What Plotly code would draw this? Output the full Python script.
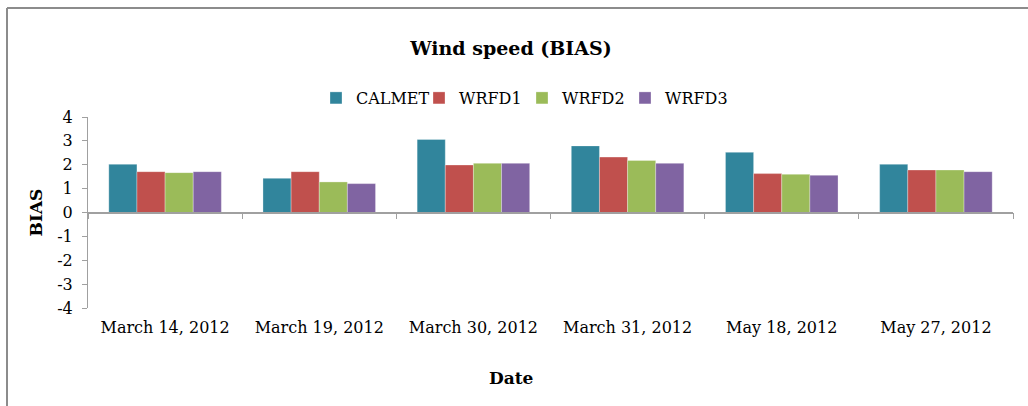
import plotly.graph_objects as go

dates = ["March 14, 2012", "March 19, 2012", "March 30, 2012",
         "March 31, 2012", "May 18, 2012", "May 27, 2012"]
calmet = [2.02, 1.43, 3.06, 2.79, 2.52, 2.02]
wrfd1 = [1.71, 1.71, 1.99, 2.32, 1.63, 1.78]
wrfd2 = [1.67, 1.28, 2.06, 2.18, 1.60, 1.78]
wrfd3 = [1.71, 1.21, 2.06, 2.06, 1.56, 1.71]
series_names = ["CALMET", "WRFD1", "WRFD2", "WRFD3"]
colors = ["#31859C", "#C0504D", "#9BBB59", "#8064A2"]
y_ticks = [-4, -3, -2, -1, 0, 1, 2, 3, 4]
y_ticktext = ["-4", "-3", "-2", "-1", "0", "1", "2", "3", "4"]

FONT = "DejaVu Serif"
W, H = 1028, 406
L, R, T, B = 88, 15, 117, 98
pw, ph = W - L - R, H - T - B

fig = go.Figure()
for name, vals, col in zip(series_names, [calmet, wrfd1, wrfd2, wrfd3], colors):
    fig.add_trace(go.Bar(x=dates, y=vals, name=name,
                         marker=dict(color=col, line=dict(color="rgba(255,255,255,0.6)", width=0.5))))

# invisible helper trace for the zero-positioned category axis
fig.add_trace(go.Scatter(x=dates, y=[0] * len(dates), xaxis="x2", mode="none",
                         showlegend=False, hoverinfo="skip"))

gray = "#A0A0A0"
fig.update_layout(
    width=W, height=H,
    margin=dict(l=L, r=R, t=T, b=B),
    paper_bgcolor="white", plot_bgcolor="white",
    font=dict(family=FONT, color="#000000", size=15),
    title=dict(text="<b>Wind speed (BIAS)</b>", x=(511 - L) / pw, xref="paper", xanchor="center",
               y=1 - 48 / H, yanchor="middle", font=dict(family=FONT, size=19)),
    barmode="group", bargap=0.27, bargroupgap=0,
    legend=dict(orientation="h", x=(522 - L) / pw, xanchor="center", xref="paper",
                y=1 + (117 - 98) / ph, yanchor="middle",
                font=dict(family=FONT, size=16), entrywidth=58, entrywidthmode="pixels",
                itemwidth=30, traceorder="normal", bgcolor="rgba(0,0,0,0)"),
    xaxis=dict(type="category", showline=False, ticks="", showgrid=False, zeroline=False,
               tickfont=dict(family=FONT, size=16), ticklabelstandoff=8),
    xaxis2=dict(type="category", overlaying="x", matches="x", anchor="free", position=0.5,
                showline=True, linecolor=gray, linewidth=1.5, ticks="outside", tickson="boundaries",
                ticklen=6, tickcolor=gray, showticklabels=False, showgrid=False, zeroline=False),
    yaxis=dict(range=[-4, 4], tickvals=y_ticks, ticktext=y_ticktext, showline=True,
               linecolor=gray, linewidth=1, ticks="outside", ticklen=5, tickcolor=gray,
               showgrid=False, zeroline=False, ticklabelstandoff=6,
               tickfont=dict(family=FONT, size=16),
               title=dict(text="<b>BIAS</b>", font=dict(family=FONT, size=17), standoff=10)),
)

fig.add_annotation(text="<b>Date</b>", xref="paper", yref="paper",
                   x=(511 - L) / pw, y=-(378 - T - ph) / ph,
                   showarrow=False, font=dict(family=FONT, size=17),
                   xanchor="center", yanchor="middle")

# chart area border (left and top edges)
fig.add_shape(type="line", xref="paper", yref="paper",
              x0=(7 - L) / pw, x1=(1030 - L) / pw, y0=1 + (T - 8) / ph, y1=1 + (T - 8) / ph,
              line=dict(color="#8C8C8C", width=2))
fig.add_shape(type="line", xref="paper", yref="paper",
              x0=(7 - L) / pw, x1=(7 - L) / pw, y0=1 + (T - 8) / ph, y1=-(H - T - ph + 5) / ph,
              line=dict(color="#8C8C8C", width=2))

fig.write_html("out.html", config={"displayModeBar": False},
               post_script="document.body.style.margin='0px';")
